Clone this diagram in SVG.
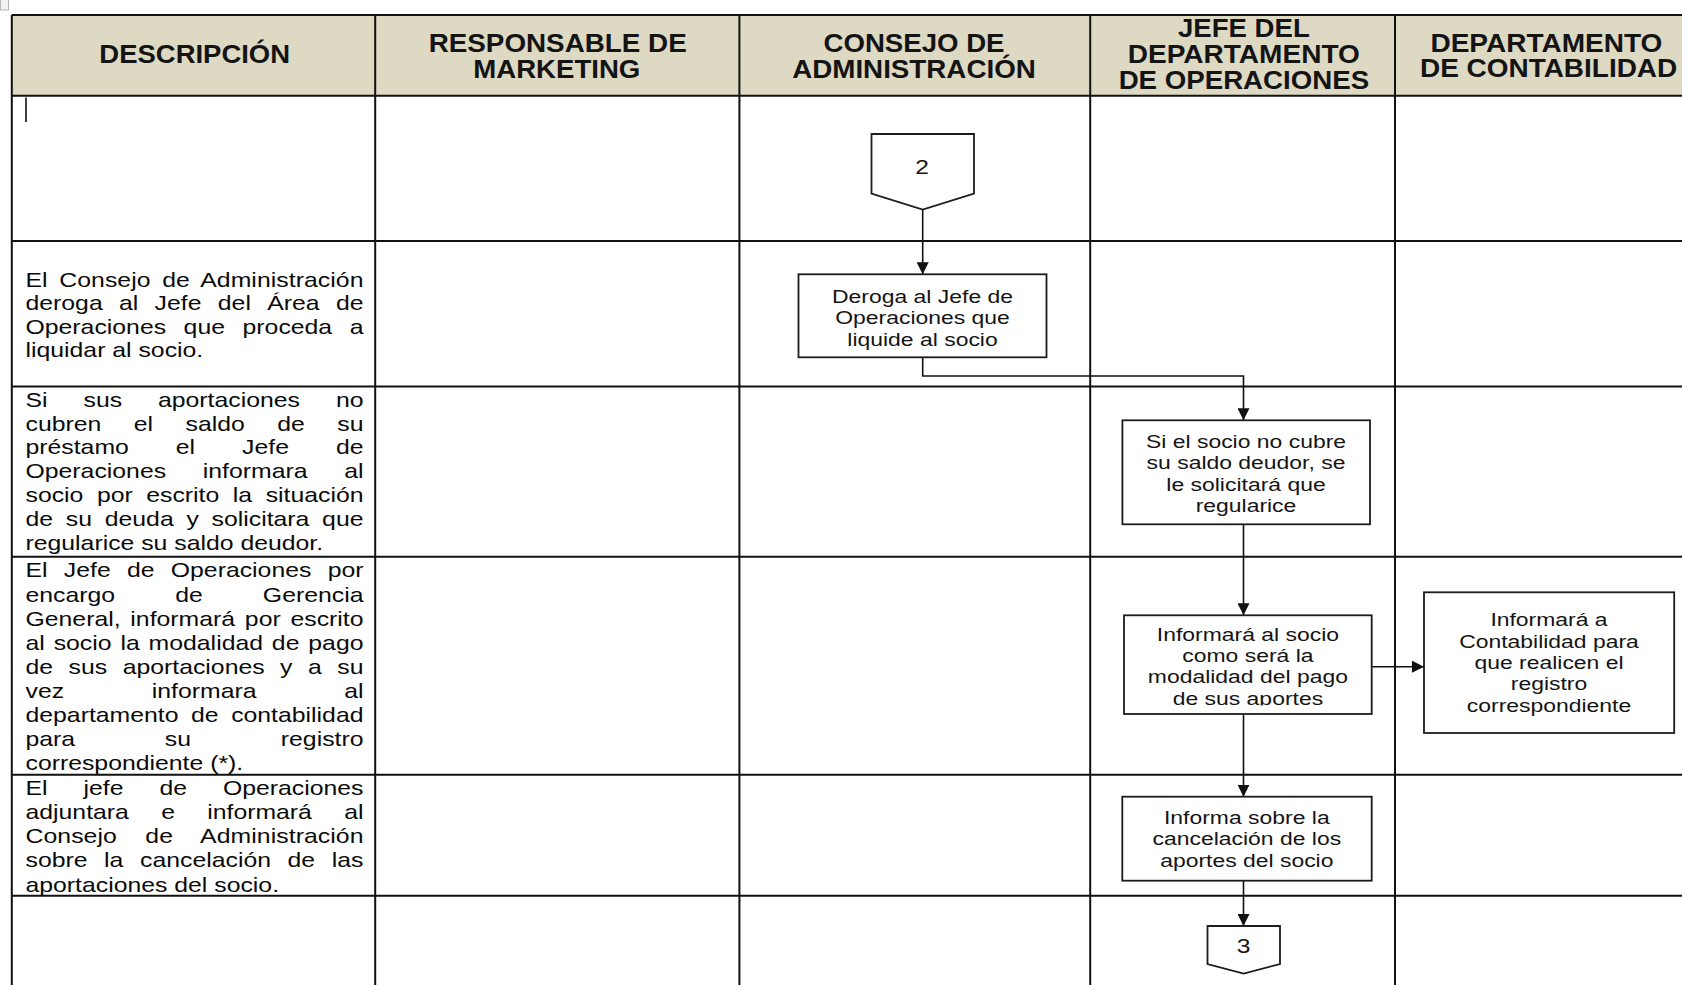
<svg xmlns="http://www.w3.org/2000/svg" width="1682" height="985" viewBox="0 0 1682 985">
  <defs>
    <style>
      text { font-family: "Liberation Sans", Arial, sans-serif; }
      .hd { font-weight: bold; font-size: 25px; fill: #141414; text-anchor: middle; }
      .ds { font-size: 20px; fill: #0a0a0a; }
      .bx { font-size: 18.5px; fill: #141414; text-anchor: middle; }
      .num { font-size: 20.5px; fill: #141414; text-anchor: middle; }
      .grid { stroke: #111; stroke-width: 2; fill: none; }
      .shape { fill: #fff; stroke: #1c1c1c; stroke-width: 1.8; }
      .flow { fill: none; stroke: #111; stroke-width: 1.6; }
    </style>
    <marker id="arrow" viewBox="0 0 12 12" refX="12" refY="6" markerWidth="12" markerHeight="12" markerUnits="userSpaceOnUse" orient="auto">
      <path d="M0,0 L12,6 L0,12 z" fill="#111"/>
    </marker>
    <clipPath id="clip-inform">
      <rect x="1124" y="616" width="247" height="89.6"/>
    </clipPath>
  </defs>

  <rect width="1682" height="985" fill="#fff"/>

  <!-- table move handle -->
  <rect x="0.5" y="-1" width="8" height="11" fill="#f3f3f3" stroke="#b4b4b4" stroke-width="1"/>

  <!-- swimlane table -->
  <g id="table">
    <rect x="11.8" y="15" width="1680" height="80.7" fill="#DDD9C3"/>
    <path class="grid" d="M11.8,15 H1690 M11.8,95.7 H1690 M11.8,240.9 H1690 M11.8,386.5 H1690 M11.8,556.7 H1690 M11.8,774.8 H1690 M11.8,895.8 H1690
                          M11.8,15 V990 M375.2,15 V990 M739.4,15 V990 M1090.2,15 V990 M1395,15 V990"/>
    <line x1="26" y1="97.5" x2="26" y2="122" stroke="#000" stroke-width="1.5"/>
  </g>

  <!-- column headings -->
  <g id="headers">
    <text class="hd" x="194.7" y="63.3" textLength="190.7" lengthAdjust="spacingAndGlyphs">DESCRIPCIÓN</text>
    <text class="hd" x="557.7" y="51.7" textLength="258" lengthAdjust="spacingAndGlyphs">RESPONSABLE DE</text>
    <text class="hd" x="556.8" y="77.7" textLength="167" lengthAdjust="spacingAndGlyphs">MARKETING</text>
    <text class="hd" x="914" y="51.7" textLength="181" lengthAdjust="spacingAndGlyphs">CONSEJO DE</text>
    <text class="hd" x="914" y="77.7" textLength="243.6" lengthAdjust="spacingAndGlyphs">ADMINISTRACIÓN</text>
    <text class="hd" x="1243.9" y="37.3" textLength="131.7" lengthAdjust="spacingAndGlyphs">JEFE DEL</text>
    <text class="hd" x="1243.8" y="63.3" textLength="232" lengthAdjust="spacingAndGlyphs">DEPARTAMENTO</text>
    <text class="hd" x="1243.9" y="89.3" textLength="250.5" lengthAdjust="spacingAndGlyphs">DE OPERACIONES</text>
    <text class="hd" x="1546.4" y="51.7" textLength="232" lengthAdjust="spacingAndGlyphs">DEPARTAMENTO</text>
    <text class="hd" x="1548.6" y="77.3" textLength="257.2" lengthAdjust="spacingAndGlyphs">DE CONTABILIDAD</text>
  </g>

  <!-- step descriptions (justified column) -->
  <g id="descriptions" transform="scale(1.24 1)">
    <g id="desc-1">
      <text class="ds" x="20.56" y="287" style="word-spacing:3.79px" textLength="272.58" lengthAdjust="spacing">El Consejo de Administración</text>
      <text class="ds" x="20.56" y="310.3" style="word-spacing:7.6px" textLength="272.58" lengthAdjust="spacing">deroga al Jefe del Área de</text>
      <text class="ds" x="20.56" y="333.6" style="word-spacing:8.59px" textLength="272.58" lengthAdjust="spacing">Operaciones que proceda a</text>
      <text class="ds" x="20.56" y="357">liquidar al socio.</text>
    </g>
    <g id="desc-2">
      <text class="ds" x="20.56" y="406.7" style="word-spacing:23.42px" textLength="272.58" lengthAdjust="spacing">Si sus aportaciones no</text>
      <text class="ds" x="20.56" y="430.6" style="word-spacing:20.62px" textLength="272.58" lengthAdjust="spacing">cubren el saldo de su</text>
      <text class="ds" x="20.56" y="454.5" style="word-spacing:32.31px" textLength="272.58" lengthAdjust="spacing">préstamo el Jefe de</text>
      <text class="ds" x="20.56" y="478.4" style="word-spacing:24.03px" textLength="272.58" lengthAdjust="spacing">Operaciones informara al</text>
      <text class="ds" x="20.56" y="502.3" style="word-spacing:5.35px" textLength="272.58" lengthAdjust="spacing">socio por escrito la situación</text>
      <text class="ds" x="20.56" y="526.2" style="word-spacing:4.71px" textLength="272.58" lengthAdjust="spacing">de su deuda y solicitara que</text>
      <text class="ds" x="20.56" y="550.1">regularice su saldo deudor.</text>
    </g>
    <g id="desc-3">
      <text class="ds" x="20.56" y="577.5" style="word-spacing:7.56px" textLength="272.58" lengthAdjust="spacing">El Jefe de Operaciones por</text>
      <text class="ds" x="20.56" y="601.6" style="word-spacing:42.91px" textLength="272.58" lengthAdjust="spacing">encargo de Gerencia</text>
      <text class="ds" x="20.56" y="625.6" style="word-spacing:2.31px" textLength="272.58" lengthAdjust="spacing">General, informará por escrito</text>
      <text class="ds" x="20.56" y="649.7" style="word-spacing:1.6px" textLength="272.58" lengthAdjust="spacing">al socio la modalidad de pago</text>
      <text class="ds" x="20.56" y="673.7" style="word-spacing:6.94px" textLength="272.58" lengthAdjust="spacing">de sus aportaciones y a su</text>
      <text class="ds" x="20.56" y="697.8" style="word-spacing:65.16px" textLength="272.58" lengthAdjust="spacing">vez informara al</text>
      <text class="ds" x="20.56" y="721.9" style="word-spacing:4.55px" textLength="272.58" lengthAdjust="spacing">departamento de contabilidad</text>
      <text class="ds" x="20.56" y="745.9" style="word-spacing:66.82px" textLength="272.58" lengthAdjust="spacing">para su registro</text>
      <text class="ds" x="20.56" y="770">correspondiente (*).</text>
    </g>
    <g id="desc-4">
      <text class="ds" x="20.56" y="795" style="word-spacing:23.42px" textLength="272.58" lengthAdjust="spacing">El jefe de Operaciones</text>
      <text class="ds" x="20.56" y="819.2" style="word-spacing:20.46px" textLength="272.58" lengthAdjust="spacing">adjuntara e informará al</text>
      <text class="ds" x="20.56" y="843.3" style="word-spacing:17.36px" textLength="272.58" lengthAdjust="spacing">Consejo de Administración</text>
      <text class="ds" x="20.56" y="867.5" style="word-spacing:7.84px" textLength="272.58" lengthAdjust="spacing">sobre la cancelación de las</text>
      <text class="ds" x="20.56" y="891.7">aportaciones del socio.</text>
    </g>
  </g>

  <!-- connectors -->
  <g id="connectors">
    <path class="flow" d="M922.7,209.5 V274.3" marker-end="url(#arrow)"/>
    <path class="flow" d="M922.7,357.3 V376 H1243.5 V420.3" marker-end="url(#arrow)"/>
    <path class="flow" d="M1243.5,524.3 V615.3" marker-end="url(#arrow)"/>
    <path class="flow" d="M1371.7,666.7 H1424" marker-end="url(#arrow)"/>
    <path class="flow" d="M1243.5,714 V796.7" marker-end="url(#arrow)"/>
    <path class="flow" d="M1243.5,880.7 V926" marker-end="url(#arrow)"/>
  </g>

  <!-- off-page connector 2 -->
  <g id="offpage-2">
    <polygon class="shape" points="871.5,134 974,134 974,193.5 922.7,209.5 871.5,193.5"/>
    <g transform="translate(922 0) scale(1.2 1)"><text class="num" x="0" y="174">2</text></g>
  </g>

  <!-- process: derogation -->
  <g id="step-deroga">
    <rect class="shape" x="798.5" y="274.3" width="248" height="83"/>
    <g transform="translate(922.5 0) scale(1.24 1)">
      <text class="bx" x="0" y="302.7">Deroga al Jefe de</text>
      <text class="bx" x="0" y="324.2">Operaciones que</text>
      <text class="bx" x="0" y="345.8">liquide al socio</text>
    </g>
  </g>

  <!-- process: request regularisation -->
  <g id="step-regulariza">
    <rect class="shape" x="1122.4" y="420.3" width="247.6" height="104"/>
    <g transform="translate(1246 0) scale(1.24 1)">
      <text class="bx" x="0" y="448.3">Si el socio no cubre</text>
      <text class="bx" x="0" y="469.5">su saldo deudor, se</text>
      <text class="bx" x="0" y="490.7">le solicitará que</text>
      <text class="bx" x="0" y="511.8">regularice</text>
    </g>
  </g>

  <!-- process: payment terms (last line clipped by the text frame) -->
  <g id="step-informa-socio">
    <rect class="shape" x="1124" y="615.3" width="247.7" height="98.7"/>
    <g clip-path="url(#clip-inform)">
      <g transform="translate(1247.9 0) scale(1.24 1)">
        <text class="bx" x="0" y="640.7">Informará al socio</text>
        <text class="bx" x="0" y="662.1">como será la</text>
        <text class="bx" x="0" y="683.5">modalidad del pago</text>
        <text class="bx" x="0" y="704.9">de sus aportes</text>
      </g>
    </g>
  </g>

  <!-- process: notify accounting -->
  <g id="step-contabilidad">
    <rect class="shape" x="1424" y="592.3" width="250.2" height="140.7"/>
    <g transform="translate(1549 0) scale(1.24 1)">
      <text class="bx" x="0" y="626.5">Informará a</text>
      <text class="bx" x="0" y="647.8">Contabilidad para</text>
      <text class="bx" x="0" y="669">que realicen el</text>
      <text class="bx" x="0" y="690.3">registro</text>
      <text class="bx" x="0" y="711.6">correspondiente</text>
    </g>
  </g>

  <!-- process: cancellation report -->
  <g id="step-cancelacion">
    <rect class="shape" x="1122.3" y="796.7" width="249.4" height="84"/>
    <g transform="translate(1246.8 0) scale(1.24 1)">
      <text class="bx" x="0" y="824">Informa sobre la</text>
      <text class="bx" x="0" y="845.4">cancelación de los</text>
      <text class="bx" x="0" y="866.7">aportes del socio</text>
    </g>
  </g>

  <!-- off-page connector 3 -->
  <g id="offpage-3">
    <polygon class="shape" points="1207.5,926 1280,926 1280,964 1243.7,973.5 1207.5,964"/>
    <g transform="translate(1243.7 0) scale(1.2 1)"><text class="num" x="0" y="952.7">3</text></g>
  </g>
</svg>
